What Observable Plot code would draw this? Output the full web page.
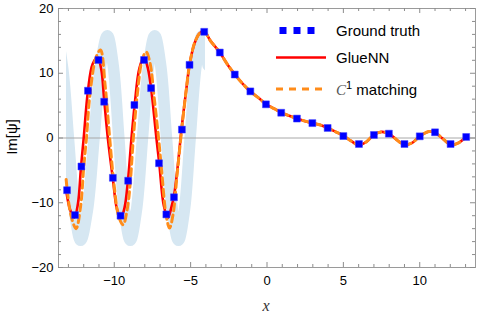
<!DOCTYPE html>
<html>
<head>
<meta charset="utf-8">
<script src="https://cdn.jsdelivr.net/npm/d3@7"></script>
<script src="https://cdn.jsdelivr.net/npm/@observablehq/plot@0.6"></script>
<style>
  html, body { margin: 0; padding: 0; background: white; }
  #wrap { position: relative; width: 478px; height: 317px; }
  #overlay { position: absolute; left: 0; top: 0; pointer-events: none; }
</style>
</head>
<body>
<div id="wrap"></div>
<script>
// ---- data ----
const gtX = [-13.09, -12.57, -12.15, -11.72, -11.03, -10.66, -10.09, -9.59, -9.09, -8.68, -8.05, -7.59, -7.07, -6.59, -6.09, -5.57, -5.07, -4.11, -3.09, -2.11, -1.09, -0.07, 0.93, 1.96, 2.97, 3.97, 5.0, 6.02, 7.0, 7.98, 9.0, 10.0, 11.0, 12.02, 13.04];
const gtY = [-8.06, -11.9, -4.4, 7.3, 12.05, 5.6, -6.15, -12.0, -6.6, 5.1, 12.05, 7.7, -3.9, -11.8, -9.15, 1.3, 11.3, 16.4, 13.2, 9.8, 7.2, 5.2, 3.9, 3.0, 2.3, 1.55, 0.3, -0.93, 0.47, 0.67, -0.93, 0.26, 0.88, -0.93, 0.16];

const glueX = [-13.15, -12.9, -12.62, -12.38, -12.18, -12.0, -11.72, -11.42, -11.09, -10.85, -10.66, -10.42, -10.09, -9.82, -9.57, -9.33, -9.1, -8.87, -8.66, -8.35, -8.05, -7.8, -7.59, -7.24, -7.05, -6.75, -6.48, -6.25, -6.09, -5.85, -5.6, -5.3, -5.07, -4.75, -4.4, -4.12, -3.7, -3.09, -2.6, -2.1, -1.6, -1.09, -0.5, -0.05, 0.5, 0.95, 1.5, 1.97, 2.5, 2.98, 3.5, 3.98, 4.5, 5.0, 5.5, 6.0, 6.5, 7.0, 7.5, 8.0, 8.5, 9.0, 9.5, 10.0, 10.6, 11.0, 11.5, 12.05, 12.5, 13.05];
const glueY = [-8.0, -11.0, -12.3, -10.2, -4.6, 0, 7.3, 11.4, 12.45, 10.6, 5.9, 0, -6.3, -11.0, -12.35, -10.8, -6.5, 0, 5.2, 10.8, 12.45, 10.8, 7.7, 0, -4.0, -10.5, -12.3, -10.6, -9.0, -4.5, 1.3, 7.2, 11.3, 14.6, 16.2, 16.5, 15.0, 13.2, 11.4, 9.8, 8.4, 7.2, 6.1, 5.2, 4.5, 3.9, 3.4, 3.0, 2.6, 2.3, 2.0, 1.55, 0.95, 0.35, -0.45, -1.1, -0.6, 0.5, 0.95, 0.65, -0.3, -1.05, -0.75, 0.25, 1.0, 0.85, -0.1, -1.05, -0.8, 0.2];

const c1X = [-13.15, -12.85, -12.5, -12.2, -12.0, -11.82, -11.6, -11.2, -10.9, -10.6, -10.3, -10.0, -9.7, -9.42, -9.15, -8.95, -8.75, -8.5, -8.2, -7.92, -7.65, -7.4, -7.1, -6.9, -6.6, -6.38, -6.15, -5.9, -5.62, -5.3, -5.07, -4.75, -4.4, -4.12, -3.7, -3.09, -2.6, -2.1, -1.6, -1.09, -0.5, -0.05, 0.5, 0.95, 1.5, 1.97, 2.5, 2.98, 3.5, 3.98, 4.5, 5.0, 5.5, 6.0, 6.5, 7.0, 7.5, 8.0, 8.5, 9.0, 9.5, 10.0, 10.6, 11.0, 11.5, 12.05, 12.5, 13.05];
const c1Y = [-6.4, -11.8, -14.0, -10.5, -4.5, 0, 6.5, 12.4, 13.6, 8.2, 0, -7.5, -12.2, -13.4, -11.0, -6.8, 0, 6.5, 11.8, 13.3, 11.5, 6.5, 0, -5.0, -12.0, -13.9, -11.8, -6.0, 0.5, 7.2, 11.3, 14.6, 16.2, 16.5, 15.0, 13.2, 11.4, 9.8, 8.4, 7.2, 6.1, 5.2, 4.5, 3.9, 3.4, 3.0, 2.6, 2.3, 2.0, 1.55, 0.95, 0.35, -0.45, -1.1, -0.6, 0.5, 0.95, 0.65, -0.3, -1.05, -0.75, 0.25, 1.0, 0.85, -0.1, -1.05, -0.8, 0.2];

// shaded band (centre line of the thick light-blue wave)
const bandX = [-14.2, -13.8, -13.4, -13.0, -12.6, -12.2, -11.76, -11.32, -10.89, -10.45, -10.07, -9.7, -9.33, -8.95, -8.55, -8.15, -7.75, -7.35, -6.96, -6.58, -6.19, -5.8, -5.41, -5.03, -4.64, -4.25, -3.86];
const bandY = [11.2, 15.8, 11.2, 0, -11.2, -15.8, -11.2, 0, 11.2, 15.8, 11.2, 0, -11.2, -15.8, -11.2, 0, 11.2, 15.8, 11.2, 0, -11.2, -15.8, -11.2, 0, 11.2, 15.8, 11.2];
const bandClip = [-13.13, -4.02];

const xDomain = [-13.65, 13.65];
const yDomain = [-20, 20];
const xMajor = [-10, -5, 0, 5, 10];
const xMinor = d3.range(-13, 14, 1).filter(v => v % 5 !== 0);
const yMajor = [-20, -10, 0, 10, 20];
const yMinor = d3.range(-18, 19, 2).filter(v => v % 10 !== 0);

const zip = (xs, ys) => xs.map((x, i) => ({x, y: ys[i]}));
const gt = zip(gtX, gtY), glue = zip(glueX, glueY), c1 = zip(c1X, c1Y), band = zip(bandX, bandY);

const W = 478, H = 317, ML = 58, MR = 3, MT = 8, MB = 50;
const innerW = W - ML - MR, innerH = H - MT - MB;

function clipX(x0, x1) {
  return function(index, scales, values, dimensions, context, next) {
    const g = next(index, scales, values, dimensions, context);
    const doc = context.document;
    const ns = "http://www.w3.org/2000/svg";
    const wrap = doc.createElementNS(ns, "g");
    const cp = doc.createElementNS(ns, "clipPath");
    cp.setAttribute("id", "bandclip");
    const r = doc.createElementNS(ns, "rect");
    const a = scales.x(x0), b = scales.x(x1);
    r.setAttribute("x", a); r.setAttribute("width", b - a);
    r.setAttribute("y", 0); r.setAttribute("height", dimensions.height);
    cp.appendChild(r);
    wrap.appendChild(cp);
    wrap.setAttribute("clip-path", "url(#bandclip)");
    wrap.appendChild(g);
    return wrap;
  };
}

const tickStroke = "#8c8c8c";
const chart = Plot.plot({
  width: W, height: H,
  marginLeft: ML, marginRight: MR, marginTop: MT, marginBottom: MB,
  x: {domain: xDomain},
  y: {domain: yDomain},
  style: {fontFamily: "'Liberation Sans', Arial, sans-serif", fontSize: "13px", color: "black", background: "white", overflow: "visible"},
  marks: [
    Plot.line(band, {x: "x", y: "y", stroke: "#d6e7f2", strokeWidth: 11.5, curve: "catmull-rom", render: clipX(bandClip[0], bandClip[1])}),
    Plot.ruleY([0], {stroke: "#a8a8a8", strokeWidth: 1}),
    Plot.line(glue, {x: "x", y: "y", stroke: "#ff0000", strokeWidth: 2.6, curve: "catmull-rom"}),
    Plot.line(c1, {x: "x", y: "y", stroke: "#ff8c1a", strokeWidth: 3, strokeDasharray: "7,4.5", curve: "catmull-rom"}),
    Plot.dot(gt, {x: "x", y: "y", symbol: "square", fill: "#0000ff", stroke: "#3a3aff", strokeWidth: 0.5, r: 3.9}),
    Plot.frame({stroke: "#9a9a9a"}),
    Plot.tickX(xMajor, {x: d => d, stroke: tickStroke, insetTop: innerH - 5}),
    Plot.tickX(xMajor, {x: d => d, stroke: tickStroke, insetBottom: innerH - 5}),
    Plot.tickX(xMinor, {x: d => d, stroke: tickStroke, insetTop: innerH - 3}),
    Plot.tickX(xMinor, {x: d => d, stroke: tickStroke, insetBottom: innerH - 3}),
    Plot.tickY(yMajor, {y: d => d, stroke: tickStroke, insetRight: innerW - 5}),
    Plot.tickY(yMajor, {y: d => d, stroke: tickStroke, insetLeft: innerW - 5}),
    Plot.tickY(yMinor, {y: d => d, stroke: tickStroke, insetRight: innerW - 3}),
    Plot.tickY(yMinor, {y: d => d, stroke: tickStroke, insetLeft: innerW - 3}),
    Plot.axisX({ticks: xMajor, tickSize: 0, tickPadding: 8, label: null}),
    Plot.axisY({ticks: yMajor, tickSize: 0, tickPadding: 5, label: null})
  ]
});
const wrapEl = document.getElementById("wrap");
wrapEl.appendChild(chart);

// legend and axis titles overlay
const ov = d3.select(wrapEl).append("svg").attr("id", "overlay").attr("width", W).attr("height", H);
const legendItems = ["Ground truth", "GlueNN", "matching"];
const lx = 276, tx = 336;
[283, 297, 311].forEach(cx => ov.append("rect").attr("x", cx - 3.5).attr("y", 27).attr("width", 7).attr("height", 7).attr("fill", "#0000ff"));
ov.append("text").attr("x", tx).attr("y", 36).attr("font-family", "'Liberation Sans', Arial, sans-serif").attr("font-size", 15).text(legendItems[0]);
ov.append("line").attr("x1", lx).attr("x2", 326).attr("y1", 57.5).attr("y2", 57.5).attr("stroke", "#ff0000").attr("stroke-width", 2.6);
ov.append("text").attr("x", tx).attr("y", 63).attr("font-family", "'Liberation Sans', Arial, sans-serif").attr("font-size", 15).text(legendItems[1]);
ov.append("line").attr("x1", lx).attr("x2", 326).attr("y1", 89).attr("y2", 89).attr("stroke", "#ff8c1a").attr("stroke-width", 3).attr("stroke-dasharray", "7,6");
const t3 = ov.append("text").attr("x", tx).attr("y", 95).attr("font-family", "'Liberation Sans', Arial, sans-serif").attr("font-size", 15);
t3.append("tspan").attr("font-family", "'Liberation Serif', 'Times New Roman', serif").attr("font-style", "italic").attr("fill", "#555").text("C");
t3.append("tspan").attr("font-size", 11).attr("dy", -6).text("1");
t3.append("tspan").attr("dy", 6).text(" " + legendItems[2]);
ov.append("text").attr("transform", "translate(17,137) rotate(-90)").attr("text-anchor", "middle")
  .attr("font-family", "'Liberation Sans', Arial, sans-serif").attr("font-size", 15).text("Im[ψ]");
ov.append("text").attr("x", 266).attr("y", 311).attr("text-anchor", "middle")
  .attr("font-family", "'Liberation Serif', 'Times New Roman', serif").attr("font-style", "italic").attr("font-size", 16).attr("fill", "#333").text("x");
</script>
</body>
</html>
